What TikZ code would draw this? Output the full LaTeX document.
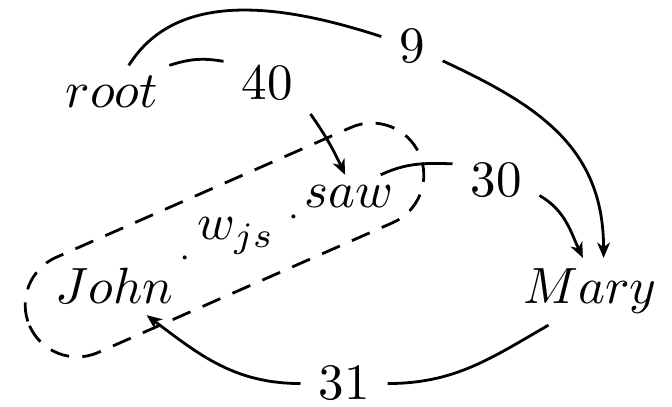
\documentclass[tikz,border=0pt]{standalone}
\usetikzlibrary{arrows.meta}
\begin{document}
\begin{tikzpicture}[x=0.19607pt,y=-0.19607pt,
  word/.style={inner sep=2pt, anchor=base},
  num/.style={inner sep=3.33pt, anchor=base},
  edge/.style={line width=0.55pt},
  arr/.style={edge,-{Stealth[length=3pt,width=2.5pt,inset=0.9pt]}},
  dotline/.style={line width=0.8pt, line cap=round, dash pattern=on 0pt off 60pt},
  hull/.style={line width=0.55pt, dash pattern=on 3.8pt off 2.6pt}]
\useasboundingbox (0,0) rectangle (672,407);
\node[word] (root) at (112,108) {$root$};
\node[num] (forty) at (267,100) {$40$};
\node[num] (nine) at (412,63) {$9$};
\node[word] (saw) at (349,208) {$saw$};
\node[num] (thirty) at (496,197) {$30$};
\node[word] (wjs) at (236,240) {$w_{js}$};
\node[word] (John) at (114.5,304) {$John$};
\node[word] (Mary) at (590,304) {$Mary$};
\node[num] (thirtyone) at (344,400) {$31$};
% dashed hull around John and saw
\begin{scope}[shift={(224.5,240)}, rotate=23.78]
\draw[hull, rounded corners=10.2pt] (-213,-52) rectangle (213,52);
\end{scope}
% dotted link
\draw[dotline] (John) -- (wjs.center);
\draw[dotline] (saw) -- (wjs.center);
% arcs
\draw[edge] (root) to[out=58,in=162,looseness=0.95] (nine);
\draw[arr] (nine.-25) .. controls +(-25:20pt) and +(90:22pt) .. (Mary.68);
\draw[edge] (root.north east) to[out=18,in=170] (forty.153);
\draw[arr] (forty.-35) to[out=-55,in=115] (saw.100);
\draw[edge] (saw.35) to[out=25,in=178] (thirty.159);
\draw[arr] (thirty.-19) to[out=-30,in=115] (Mary.102);
\draw[edge] (Mary.219) to[out=210,in=0] (thirtyone);
\draw[arr] (thirtyone) to[out=180,in=-37] (John.-42);
\end{tikzpicture}
\end{document}
